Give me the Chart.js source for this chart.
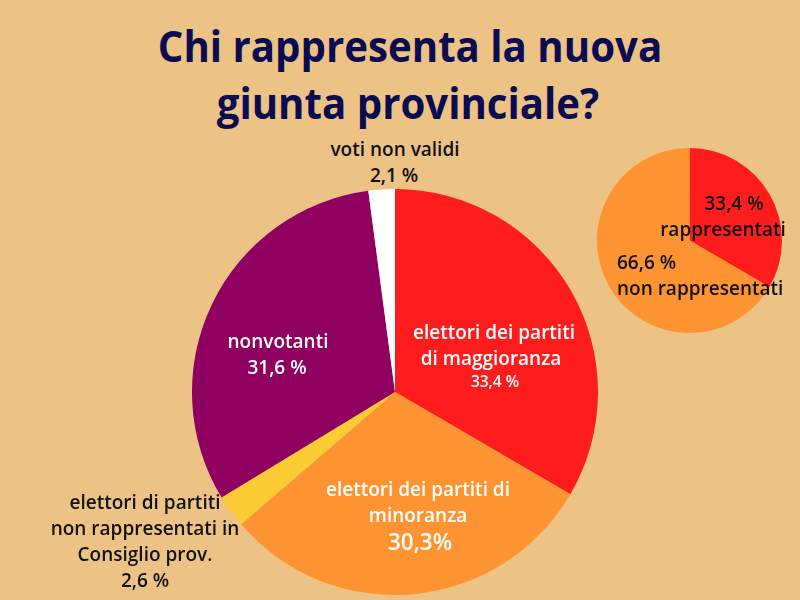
<!DOCTYPE html>
<html>
<head>
<meta charset="utf-8">
<script src="https://cdn.jsdelivr.net/npm/chart.js@4"></script>
<style>
html, body { margin: 0; padding: 0; }
body { width: 800px; height: 600px; background: #ecc384; position: relative; overflow: hidden; font-family: "Open Sans", sans-serif; }
#main { position: absolute; left: 192px; top: 189px; width: 406px; height: 406px; }
#small { position: absolute; left: 597px; top: 148px; width: 185px; height: 185px; }
.t { position: absolute; white-space: nowrap; font-weight: 600; font-size: 19px; line-height: 20px; transform: translate(-50%, -50%); color: #111; }
.l { transform: translate(0, -50%); }
.w { color: #fff; }
.head { font-size: 43px; line-height: 50px; font-weight: 700; color: #0b0b52; transform: translate(-50%, -50%) scaleX(0.935); }
</style>
</head>
<body>
<div id="main"><canvas id="mainChart"></canvas></div>
<div id="small"><canvas id="smallChart"></canvas></div>
<script>
// dati
const titolo = ['Chi rappresenta la nuova', 'giunta provinciale?'];
const categorie = ['elettori dei partiti di maggioranza', 'elettori dei partiti di minoranza', 'elettori di partiti non rappresentati in Consiglio prov.', 'nonvotanti', 'voti non validi'];
const valori = [33.4, 30.3, 2.6, 31.6, 2.1];
const colori = ['#ff1c1c', '#fe9431', '#fbcb33', '#900060', '#ffffff'];

const categorieSmall = ['rappresentati', 'non rappresentati'];
const valoriSmall = [33.4, 66.6];
const coloriSmall = ['#ff1c1c', '#fe9431'];

function torta(id, labels, data, backgroundColor) {
    return new Chart(document.getElementById(id), {
        type: 'pie',
        data: { labels, datasets: [{ data, backgroundColor, borderWidth: 0 }] },
        options: {
            animation: false,
            responsive: true,
            maintainAspectRatio: false,
            layout: { padding: 0 },
            plugins: { legend: { display: false }, tooltip: { enabled: false } }
        }
    });
}
torta('mainChart', categorie, valori, colori);
torta('smallChart', categorieSmall, valoriSmall, coloriSmall);

// testi
function testo(str, x, y, cls, size) {
    const d = document.createElement('div');
    d.className = 't ' + (cls || '');
    d.textContent = str;
    d.style.left = x + 'px';
    d.style.top = y + 'px';
    if (size) d.style.fontSize = size + 'px';
    document.body.appendChild(d);
}
const perc = v => v.toFixed(1).replace('.', ',');

testo(titolo[0], 410, 46, 'head');
testo(titolo[1], 408, 103, 'head');

testo('voti non validi', 395, 149);
testo(perc(valori[4]) + ' %', 394, 175);

testo('elettori dei partiti', 494, 332, 'w');
testo('di maggioranza', 491, 358, 'w');
testo(perc(valori[0]) + ' %', 495, 381, 'w', 15.5);

testo('nonvotanti', 278, 341, 'w');
testo(perc(valori[3]) + ' %', 277, 367, 'w');

testo('elettori dei partiti di', 418, 489, 'w');
testo('minoranza', 418, 515, 'w');
testo(perc(valori[1]) + '%', 420, 542, 'w', 22.5);

testo('elettori di partiti', 145, 502);
testo('non rappresentati in', 145, 528);
testo('Consiglio prov.', 145, 554);
testo(perc(valori[2]) + ' %', 145, 580);

testo(perc(valoriSmall[0]) + ' %', 734, 203);
testo(categorieSmall[0], 723, 229);
testo(perc(valoriSmall[1]) + ' %', 617, 262, 'l');
testo(categorieSmall[1], 617, 288, 'l');
</script>
</body>
</html>
